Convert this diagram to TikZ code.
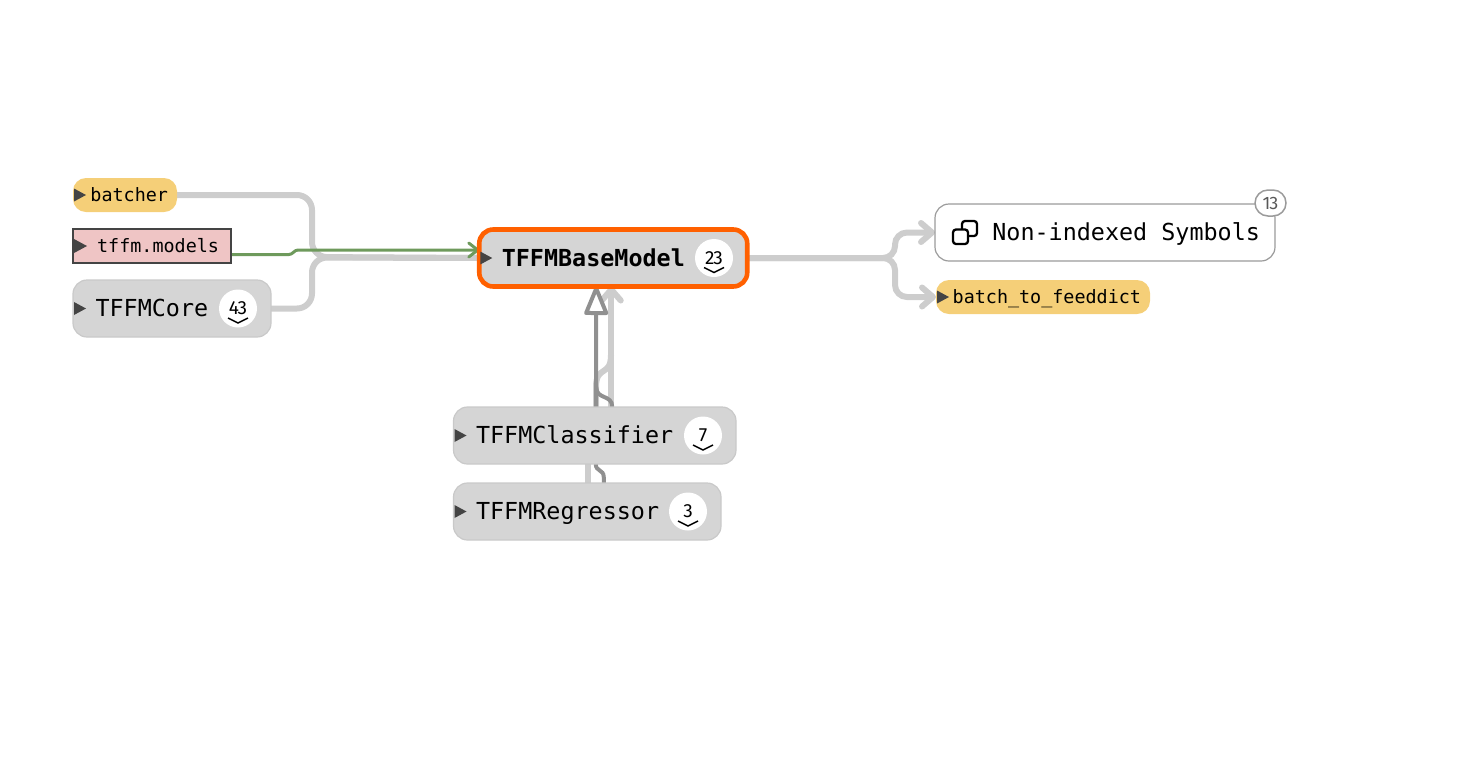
\documentclass[tikz,border=0pt]{standalone}
\usepackage{fontspec}
\setmonofont{DejaVu Sans Mono}
\newfontfamily\countfont[LetterSpace=-5]{Fira Sans}
\usetikzlibrary{arrows.meta,backgrounds}
\definecolor{boxgray}{HTML}{D5D5D5}
\definecolor{boxline}{HTML}{C9C9C9}
\definecolor{varyellow}{HTML}{F5CF78}
\definecolor{modpink}{HTML}{EFC5C5}
\definecolor{focusorange}{HTML}{FF6000}
\definecolor{usegreen}{HTML}{6E9A5C}
\definecolor{depgray}{HTML}{CDCDCD}
\definecolor{inheritgray}{HTML}{909090}
\definecolor{markgray}{HTML}{444444}
\tikzset{
    bigtext/.style={font=\ttfamily\fontsize{23.4}{28}\selectfont},
    smalltext/.style={font=\ttfamily\fontsize{18.4}{22}\selectfont},
    classbox/.style={rectangle,rounded corners=14,fill=boxgray,draw=boxline,line width=1.2,
        outer sep=0,minimum height=57,inner xsep=22.5,inner ysep=0,align=left,
        text height=16.5,text depth=0,bigtext},
    varbox/.style={rectangle,rounded corners=13,fill=varyellow,outer sep=0,minimum height=34,
        inner xsep=9,inner ysep=0,align=right,text height=13.5,text depth=0,smalltext},
    modbox/.style={rectangle,fill=modpink,draw=markgray,line width=1.1,outer sep=0,minimum height=34,
        inner xsep=12,inner ysep=0,align=right,text height=13.5,text depth=0,smalltext},
    countdot/.style={circle,fill=white,minimum size=38,inner sep=0,
        font=\countfont\fontsize{19}{22}\selectfont},
    depedge/.style={draw=depgray,line width=6},
    depedgetip/.style={depedge,-{Straight Barb[length=11pt,width=19pt,round]}},
    inheritedge/.style={draw=inheritgray,line width=4},
}
\begin{document}
\begin{tikzpicture}[x=1pt,y=-1pt]
    \useasboundingbox (0,0) rectangle (1482,756);

    % Symbols on the left
    \node[varbox,minimum width=104,text width=86] (batcher) at (125,195) {batcher};
    \node[modbox,minimum width=158,text width=134] (models) at (152,246) {tffm.models};
    \node[classbox,minimum width=198,text width=153] (core) at (172,308.5) {TFFMCore};

    % Focused class
    \node[classbox,draw=focusorange,line width=4.6,minimum width=268,text width=223,
        font=\ttfamily\bfseries\fontsize{23.4}{28}\selectfont] (base) at (613.25,258) {TFFMBaseModel};

    % Subclasses
    \node[classbox,minimum width=282.5,text width=237.5] (classifier) at (594.75,435.5) {TFFMClassifier};
    \node[classbox,minimum width=267.5,text width=222.5] (regressor) at (587.25,511.5) {TFFMRegressor};

    % Symbols on the right
    \node[classbox,fill=white,draw=inheritgray!90,minimum width=340,text width=310,inner xsep=15,
        align=right] (nonindexed) at (1105,232.5) {Non-indexed\hspace{14.1pt}Symbols};
    \node[varbox,minimum width=214,text width=196] (feeddict) at (1043,297) {batch\_to\_feeddict};

    % Counts
    \node[countdot] (corecount) at (238,308.5) {43};
    \node[countdot] (basecount) at (714,258) {23};
    \node[countdot] (classifiercount) at (703,435.5) {7};
    \node[countdot] (regressorcount) at (688,511.5) {3};
    \node[rectangle,rounded corners=13,fill=white,draw=inheritgray!90,line width=1.5,minimum width=31,
        minimum height=26,inner sep=0,text=black!65,font=\countfont\fontsize{18}{20}\selectfont]
        (symbolcount) at (1270.5,203) {13};
    \foreach \name in {corecount,basecount,classifiercount,regressorcount}
        \draw[line width=1.4,black] ([shift={(-10,9.5)}]\name.center)
            -- ([shift={(0,14.5)}]\name.center) -- ([shift={(10,9.5)}]\name.center);

    % Expand marks
    \foreach \name/\size in {batcher/6.5,models/7,core/6.5,base/6.5,classifier/6.5,regressor/6.5,feeddict/6.5}
        \fill[markgray] ([shift={(1,-\size)}]\name.west) -- ([shift={(2*\size,0)}]\name.west)
            -- ([shift={(1,\size)}]\name.west) -- cycle;

    % Icon
    \draw[black,line width=2.3,rounded corners=3] (962,221) rectangle (977,236);
    \draw[black,fill=white,line width=2.3,rounded corners=3] (953,229.5) rectangle (968,244);

    \begin{scope}[on background layer]
        % Edges to the focused class
        \draw[depedge,rounded corners=15] (batcher.east) -| ++(135,62) -- (base.west);
        \draw[depedge,rounded corners=15] (core.east) -| ++(41,-51) -- (base.west);
        \draw[usegreen,line width=3,-{Straight Barb[length=9pt,width=14pt,round]}]
            ([yshift=-8.5]models.east) -- ++(58,0) to[out=0,in=180] ++(9,-4.5)
            -- ([yshift=8]base.west);

        % Edges out of the focused class
        \draw[depedgetip,rounded corners=12] (base.east) -| ([xshift=-40]nonindexed.west)
            -- (nonindexed.west);
        \draw[depedgetip,rounded corners=12] (base.east) -| ([xshift=-41]feeddict.west)
            -- (feeddict.west);

        % Edges from the subclasses, light ones first
        \draw[depedge] ([xshift=-7]regressor.north -| classifier.north) -- ++(0,-30);
        \draw[depedgetip] ([xshift=16.5]classifier.north) -- ([xshift=-2]base.south);
        \draw[depedge] ([xshift=1.25]classifier.north) -- ++(0,-20)
            to[out=90,in=-90,looseness=1.6] ++(15,-32);
        \draw[inheritedge] ([xshift=16.5]regressor.north) -- ++(0,-6)
            to[out=90,in=-90,looseness=1.3] ++(-8,-13);
        \draw[inheritedge] ([xshift=17.5]classifier.north) to[out=90,in=-90,looseness=1.3] ++(-16,-20);
        \draw[inheritedge,-{Triangle[fill=white,length=32pt,width=25pt,round]}]
            ([xshift=1.25]classifier.north) -- ([xshift=-17]base.south);
    \end{scope}
\end{tikzpicture}
\end{document}
